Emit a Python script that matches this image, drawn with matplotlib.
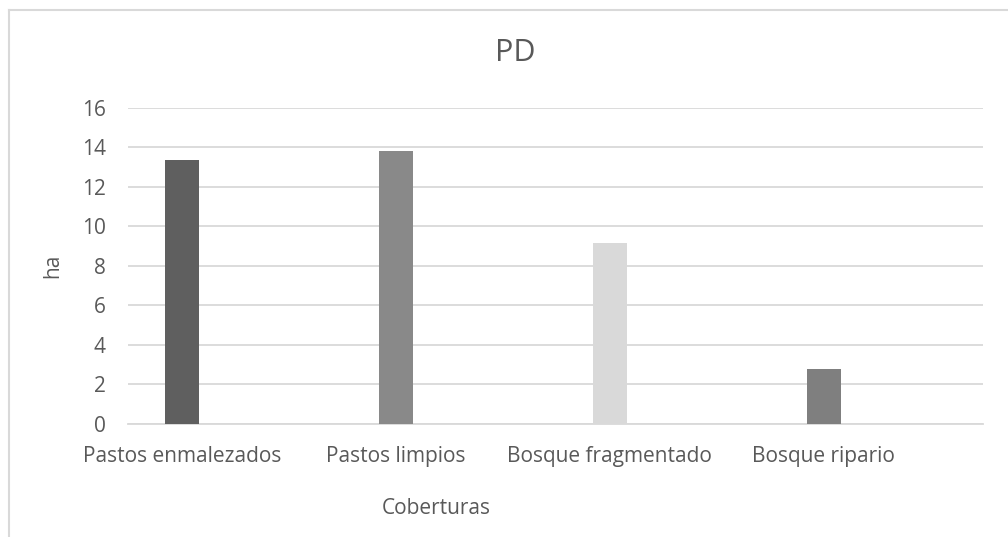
import numpy as np
import matplotlib.pyplot as plt
from matplotlib.lines import Line2D

# Coberturas y superficie (ha)
coberturas = ["Pastos enmalezados", "Pastos limpios", "Bosque fragmentado", "Bosque ripario"]
hectareas = [13.35, 13.8, 9.15, 2.78]
colores = ["#5f5f5f", "#898989", "#d9d9d9", "#7f7f7f"]

plt.rcParams['font.family'] = ['Open Sans', 'DejaVu Sans']
gris_texto = '#595959'
gris_linea = '#d9d9d9'

fig = plt.figure(figsize=(10.08, 5.37), dpi=100)
ax = fig.add_axes([0.127, 0.2104, 0.848, 0.589])

x = np.arange(len(coberturas))
ax.bar(x, hectareas, width=0.159, color=colores, zorder=3)

ax.set_xlim(-0.252, 3.743)
ax.set_ylim(0, 16)
ax.set_yticks(range(0, 17, 2))
ax.set_xticks(x)
ax.set_xticklabels(coberturas)

ax.grid(axis='y', color=gris_linea, linewidth=1.3, zorder=0)
for s in ['top', 'right', 'left']:
    ax.spines[s].set_visible(False)
ax.spines['bottom'].set_color(gris_linea)
ax.spines['bottom'].set_linewidth(1.3)
ax.tick_params(axis='both', length=0, labelsize=15, labelcolor=gris_texto)
ax.tick_params(axis='x', pad=16)
ax.tick_params(axis='y', pad=16)

ax.set_ylabel('ha', fontsize=15, color=gris_texto, labelpad=13)
ax.set_xlabel('Coberturas', fontsize=15, color=gris_texto, labelpad=22)
ax.xaxis.label.set_x(0.361)

fig.text(515 / 1008, 1 - 53 / 537, 'PD', fontsize=22, color=gris_texto,
         ha='center', va='center')

# borde del área del gráfico
fig.add_artist(Line2D([8.5 / 1008, 8.5 / 1008], [0, 1 - 9.5 / 537],
                      transform=fig.transFigure, color=gris_linea, linewidth=1.5))
fig.add_artist(Line2D([8.5 / 1008, 1], [1 - 9.5 / 537, 1 - 9.5 / 537],
                      transform=fig.transFigure, color=gris_linea, linewidth=1.5))

fig.savefig('out.png', dpi=100)
